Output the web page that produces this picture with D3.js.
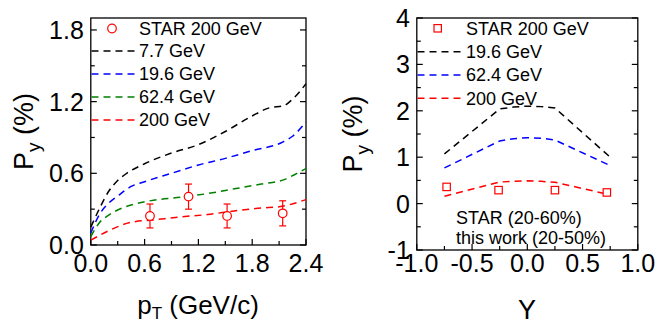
<!DOCTYPE html>
<html><head><meta charset="utf-8">
<script src="https://cdn.jsdelivr.net/npm/d3@7"></script>
<style>body{margin:0;background:#fff} svg text{font-family:"Liberation Sans",Arial,sans-serif}</style>
</head><body><svg id="c" width="657" height="324"></svg>
<script>
// ---------- Left panel data (P_y vs pT) ----------
const pt77 = [0,0.1,0.2,0.3,0.4,0.6,0.9,1.2,1.5,1.8,2.0,2.15,2.25,2.4];
const py77 = [0.15,0.31,0.45,0.54,0.60,0.68,0.77,0.84,0.95,1.08,1.15,1.165,1.22,1.35];
const pt196 = [0,0.1,0.2,0.3,0.45,0.6,0.9,1.2,1.5,1.8,2.15,2.25,2.4];
const py196 = [0.10,0.26,0.35,0.41,0.49,0.53,0.60,0.67,0.725,0.79,0.865,0.91,1.03];
const pt624 = [0,0.1,0.2,0.35,0.5,0.7,1.0,1.3,1.6,1.9,2.15,2.3,2.4];
const py624 = [0.07,0.19,0.25,0.31,0.345,0.375,0.40,0.43,0.47,0.51,0.545,0.60,0.64];
const pt200 = [0,0.2,0.45,0.7,1.0,1.3,1.6,1.9,2.1,2.4];
const py200 = [0.04,0.12,0.19,0.21,0.235,0.255,0.285,0.31,0.32,0.38];
const starPt = [0.66,1.09,1.52,2.14];
const starPtVal = [0.243,0.405,0.243,0.265];
const starPtErr = [0.10,0.105,0.10,0.105];
const leftXTicks = [0,0.6,1.2,1.8,2.4];
const leftYTicks = [0,0.6,1.2,1.8];
const leftLegend = ["STAR 200 GeV","7.7 GeV","19.6 GeV","62.4 GeV","200 GeV"];

// ---------- Right panel data (P_y vs Y) ----------
const rapGrid = [-0.75,-0.25,-0.125,0,0.125,0.25,0.75];
const r196 = [1.07,2.04,2.08,2.10,2.09,2.06,1.00];
const r624 = [0.77,1.35,1.40,1.42,1.41,1.37,0.82];
const r200 = [0.16,0.465,0.48,0.49,0.48,0.46,0.19];
const starRap = [-0.73,-0.26,0.25,0.72];
const starRapVal = [0.36,0.29,0.29,0.24];
const rightXTicks = [-1,-0.5,0,0.5,1];
const rightYTicks = [-1,0,1,2,3,4];
const rightLegend = ["STAR 200 GeV","19.6 GeV","62.4 GeV","200 GeV"];
const noteLines = ["STAR (20-60%)","this work (20-50%)"];

const svg = d3.select("#c");
const black="#000", blue="#0000ff", green="#008000", red="#ff0000";
const dash="7,5";

function panel(o){
  const g = svg.append("g");
  const x = d3.scaleLinear().domain(o.xd).range(o.xr);
  const y = d3.scaleLinear().domain(o.yd).range(o.yr);
  const tk = g.append("g").attr("stroke",black).attr("stroke-width",1.2);
  o.xMinor.forEach(v=>{ const L = o.xTicks.includes(v)?6:4;
    tk.append("line").attr("x1",x(v)).attr("x2",x(v)).attr("y1",o.yr[0]).attr("y2",o.yr[0]-L); });
  o.yMinor.forEach(v=>{ const L = o.yTicks.includes(v)?6:4;
    tk.append("line").attr("y1",y(v)).attr("y2",y(v)).attr("x1",o.xr[0]).attr("x2",o.xr[0]+L);
    tk.append("line").attr("y1",y(v)).attr("y2",y(v)).attr("x1",o.xr[1]).attr("x2",o.xr[1]-L); });
  g.append("rect").attr("x",o.xr[0]).attr("y",o.yr[1]).attr("width",o.xr[1]-o.xr[0])
    .attr("height",o.yr[0]-o.yr[1]).attr("fill","none").attr("stroke",black).attr("stroke-width",1.3);
  o.xTicks.forEach(v=> g.append("text").attr("x",x(v)).attr("y",272).attr("text-anchor","middle")
    .attr("font-size",25).text(v.toFixed(1)));
  o.yTicks.forEach(v=> g.append("text").attr("x",o.xr[0]-7).attr("y",y(v)+9).attr("text-anchor","end")
    .attr("font-size",25).text(o.yFmt(v)));
  return {g,x,y};
}

// Left
const L = panel({xd:[0,2.4], xr:[90.8,306], yd:[0,1.9], yr:[245,18],
  xTicks:leftXTicks, yTicks:leftYTicks,
  xMinor:d3.range(0,2.41,0.3).map(v=>+v.toFixed(1)), yMinor:d3.range(0,1.81,0.3).map(v=>+v.toFixed(1)),
  yFmt:v=>v.toFixed(1)});
const lineL = (xs,ys)=> d3.line().x((d,i)=>L.x(xs[i])).y(d=>L.y(d)).curve(d3.curveMonotoneX)(ys);
[[pt77,py77,black],[pt196,py196,blue],[pt624,py624,green],[pt200,py200,red]].forEach(([xs,ys,c])=>{
  L.g.append("path").attr("d",lineL(xs,ys)).attr("fill","none").attr("stroke",c)
    .attr("stroke-width",1.5).attr("stroke-dasharray",dash);
});
starPt.forEach((p,i)=>{
  const cx=L.x(p), v=starPtVal[i], e=starPtErr[i];
  const gg=L.g.append("g").attr("stroke",red).attr("stroke-width",1.2).attr("fill","none");
  gg.append("line").attr("x1",cx).attr("x2",cx).attr("y1",L.y(v+e)).attr("y2",L.y(v)-4.3);
  gg.append("line").attr("x1",cx).attr("x2",cx).attr("y1",L.y(v)+4.3).attr("y2",L.y(v-e));
  [v+e,v-e].forEach(t=>gg.append("line").attr("x1",cx-3.5).attr("x2",cx+3.5).attr("y1",L.y(t)).attr("y2",L.y(t)));
  gg.append("circle").attr("cx",cx).attr("cy",L.y(v)).attr("r",4.3).attr("fill","#fff");
});
const legY=[28.5,51,74,97,120], legC=[red,black,blue,green,red];
leftLegend.forEach((t,i)=>{
  if(i===0) L.g.append("circle").attr("cx",112).attr("cy",legY[0]).attr("r",4.3).attr("fill","none").attr("stroke",red).attr("stroke-width",1.2);
  else L.g.append("line").attr("x1",91.5).attr("x2",136).attr("y1",legY[i]).attr("y2",legY[i])
    .attr("stroke",legC[i]).attr("stroke-width",1.5).attr("stroke-dasharray",dash);
  L.g.append("text").attr("x",139).attr("y",legY[i]+6.3).attr("font-size",18).text(t);
});
const lt = svg.append("text").attr("transform","translate(33,131.5) rotate(-90)").attr("text-anchor","middle").attr("font-size",27);
lt.append("tspan").text("P"); lt.append("tspan").attr("font-size",19).attr("dy",7).text("y");
lt.append("tspan").attr("dy",-7).text(" (%)");
const xt = svg.append("text").attr("x",198).attr("y",314).attr("text-anchor","middle").attr("font-size",26);
xt.append("tspan").text("p"); xt.append("tspan").attr("font-size",17).attr("dy",5).text("T");
xt.append("tspan").attr("dy",-5).text(" (GeV/c)");

// Right
const R = panel({xd:[-1,1], xr:[416.8,637.8], yd:[-1,4], yr:[250,18],
  xTicks:rightXTicks, yTicks:rightYTicks,
  xMinor:d3.range(-1,1.01,0.25).map(v=>+v.toFixed(2)), yMinor:d3.range(-1,4.01,0.5).map(v=>+v.toFixed(1)),
  yFmt:v=>String(v)});
const lineR = ys=> d3.line().x((d,i)=>R.x(rapGrid[i])).y(d=>R.y(d))(ys);
[[r196,black],[r624,blue],[r200,red]].forEach(([ys,c])=>{
  R.g.append("path").attr("d",lineR(ys)).attr("fill","none").attr("stroke",c)
    .attr("stroke-width",1.5).attr("stroke-dasharray",dash);
});
starRap.forEach((p,i)=>{
  R.g.append("rect").attr("x",R.x(p)-3.7).attr("y",R.y(starRapVal[i])-3.7).attr("width",7.4).attr("height",7.4)
    .attr("fill","#fff").attr("stroke",red).attr("stroke-width",1.2);
});
const rlegY=[28.3,51.7,75,98.3], rlegC=[red,black,blue,red];
rightLegend.forEach((t,i)=>{
  if(i===0) R.g.append("rect").attr("x",437.7-3.7).attr("y",rlegY[0]-3.7).attr("width",7.4).attr("height",7.4)
    .attr("fill","none").attr("stroke",red).attr("stroke-width",1.2);
  else R.g.append("line").attr("x1",417.5).attr("x2",462).attr("y1",rlegY[i]).attr("y2",rlegY[i])
    .attr("stroke",rlegC[i]).attr("stroke-width",1.5).attr("stroke-dasharray",dash);
  R.g.append("text").attr("x",466).attr("y",rlegY[i]+6.3).attr("font-size",18).text(t);
});
noteLines.forEach((t,i)=> R.g.append("text").attr("x",456).attr("y",[223.5,243.5][i]).attr("font-size",18).text(t));
const rt = svg.append("text").attr("transform","translate(362,134) rotate(-90)").attr("text-anchor","middle").attr("font-size",27);
rt.append("tspan").text("P"); rt.append("tspan").attr("font-size",19).attr("dy",7).text("y");
rt.append("tspan").attr("dy",-7).text(" (%)");
svg.append("text").attr("x",527).attr("y",319).attr("text-anchor","middle").attr("font-size",27).text("Y");
</script></body></html>
